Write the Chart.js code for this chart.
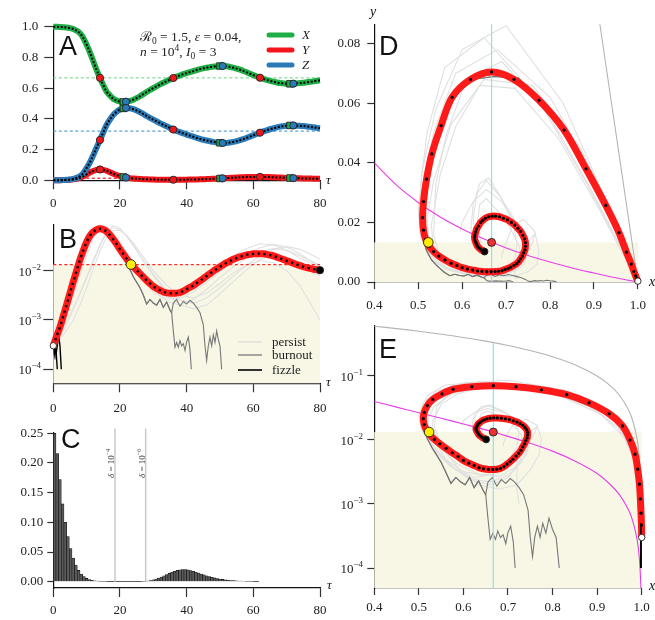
<!DOCTYPE html>
<html>
<head>
<meta charset="utf-8">
<script src="https://cdn.jsdelivr.net/npm/chart.js@4.4.0/dist/chart.umd.min.js"></script>
<style>
  body { margin: 0; background: #fff; width: 655px; height: 620px; position: relative; overflow: hidden; }
  canvas { position: absolute; }
</style>
</head>
<body>
<canvas id="pA" width="340" height="215" style="left:0;top:0"></canvas>
<canvas id="pB" width="340" height="225" style="left:0;top:195px"></canvas>
<canvas id="pC" width="340" height="200" style="left:0;top:420px"></canvas>
<canvas id="pD" width="325" height="320" style="left:330px;top:0"></canvas>
<canvas id="pE" width="325" height="310" style="left:330px;top:310px"></canvas>
<script>
// deterministic trajectory, one sample per time unit
const tau = [0, 1, 2, 3, 4, 5, 6, 7, 8, 9, 10, 11, 12, 13, 14, 15, 16, 17, 18, 19, 20,
  21, 22, 23, 24, 25, 26, 27, 28, 29, 30, 31, 32, 33, 34, 35, 36, 37, 38, 39, 40,
  41, 42, 43, 44, 45, 46, 47, 48, 49, 50, 51, 52, 53, 54, 55, 56, 57, 58, 59, 60,
  61, 62, 63, 64, 65, 66, 67, 68, 69, 70, 71, 72, 73, 74, 75, 76, 77, 78, 79, 80];
const xDet = [1.000, 0.9995, 0.9985, 0.997, 0.995, 0.991, 0.985, 0.974, 0.957, 0.927, 0.882,
  0.832, 0.775, 0.718, 0.667, 0.619, 0.577, 0.552, 0.531, 0.519, 0.512,
  0.510, 0.512, 0.517, 0.525, 0.535, 0.547, 0.561, 0.575, 0.588, 0.600,
  0.612, 0.624, 0.635, 0.645, 0.656, 0.666, 0.675, 0.683, 0.691, 0.698,
  0.705, 0.711, 0.718, 0.724, 0.729, 0.733, 0.737, 0.740, 0.743, 0.744,
  0.744, 0.742, 0.738, 0.733, 0.727, 0.720, 0.712, 0.703, 0.694, 0.685,
  0.676, 0.668, 0.660, 0.653, 0.647, 0.642, 0.637, 0.633, 0.631, 0.629,
  0.628, 0.629, 0.631, 0.633, 0.635, 0.638, 0.641, 0.644, 0.648, 0.651];
const yDet = [0.00030, 0.00047, 0.00072, 0.00120, 0.00204, 0.0035, 0.0060, 0.0100, 0.0166, 0.0257, 0.038,
  0.051, 0.061, 0.068, 0.0705, 0.068, 0.062, 0.0525, 0.043, 0.0345, 0.027,
  0.0216, 0.0174, 0.0143, 0.0120, 0.0102, 0.0087, 0.0074, 0.0063, 0.0055, 0.0048,
  0.00435, 0.0040, 0.0037, 0.00355, 0.00347, 0.00347, 0.0035, 0.0036, 0.00385, 0.0042,
  0.0046, 0.0050, 0.0056, 0.0062, 0.0069, 0.0078, 0.0087, 0.0098, 0.0108, 0.0120,
  0.0132, 0.0145, 0.0157, 0.0170, 0.0180, 0.0191, 0.0200, 0.0209, 0.0214, 0.0219,
  0.0221, 0.0221, 0.0219, 0.0214, 0.0207, 0.0200, 0.0188, 0.0178, 0.0168, 0.0158,
  0.0150, 0.0141, 0.0133, 0.0126, 0.0120, 0.0115, 0.0111, 0.0107, 0.0105, 0.0102];
const zDet = [0.000, 0.000, 0.0008, 0.0018, 0.003, 0.0055, 0.009, 0.016, 0.0264, 0.0473, 0.080,
  0.117, 0.164, 0.214, 0.2625, 0.313, 0.361, 0.3955, 0.426, 0.4465, 0.461,
  0.4684, 0.4706, 0.4687, 0.463, 0.4548, 0.4443, 0.4316, 0.4187, 0.4065, 0.3952,
  0.3837, 0.372, 0.3613, 0.3514, 0.3405, 0.3305, 0.3215, 0.3134, 0.3052, 0.2978,
  0.2904, 0.284, 0.2764, 0.2698, 0.2641, 0.2592, 0.2543, 0.2502, 0.2462, 0.244,
  0.2428, 0.2435, 0.2463, 0.250, 0.255, 0.2609, 0.268, 0.2761, 0.2846, 0.2931,
  0.3019, 0.3099, 0.3181, 0.3256, 0.3323, 0.338, 0.3442, 0.3492, 0.3522, 0.3552,
  0.357, 0.3569, 0.3557, 0.3544, 0.353, 0.3505, 0.3479, 0.3453, 0.3415, 0.3388];

// equilibrium and the point where y drops back to y*
const eqX = 0.667, eqY = 0.0133, eqZ = 0.32;
const yellowTau = 23.3, yellowX = 0.523, yellowY = 0.0133;

// turning points marked on panel A
const yTurnIdx = [14, 36, 62];
const xTurnTau = [21, 50, 71], xTurnX = [0.510, 0.744, 0.628], xTurnY = [0.0216, 0.012, 0.015], xTurnZ = [0.468, 0.244, 0.357];
const zTurnTau = [21.8, 50.8, 72], zTurnX = [0.512, 0.744, 0.629], zTurnY = [0.018, 0.0130, 0.0141], zTurnZ = [0.471, 0.243, 0.357];

// stochastic runs that persist
const pTau = [0, 3, 6, 8, 10, 12, 14, 16, 18, 20, 22, 24, 27, 30, 34, 38, 42, 46, 50, 54, 58, 62, 66, 70, 74, 78, 80];
const p1X = [1.0, 0.999, 0.995, 0.99, 0.975, 0.945, 0.88, 0.77, 0.65, 0.56, 0.52, 0.505, 0.51, 0.53, 0.57, 0.615, 0.66, 0.70, 0.73, 0.745, 0.74, 0.72, 0.69, 0.655, 0.625, 0.60, 0.595];
const p1Y = [3e-4, 6e-4, 0.0016, 0.0035, 0.0075, 0.016, 0.034, 0.062, 0.082, 0.072, 0.05, 0.032, 0.016, 0.0085, 0.004, 0.0025, 0.0022, 0.0028, 0.0045, 0.0078, 0.013, 0.02, 0.027, 0.031, 0.027, 0.02, 0.017];
const p2X = [1.0, 0.998, 0.985, 0.965, 0.92, 0.83, 0.70, 0.60, 0.54, 0.51, 0.50, 0.505, 0.53, 0.565, 0.615, 0.66, 0.70, 0.725, 0.735, 0.73, 0.71, 0.68, 0.655, 0.64, 0.635, 0.64, 0.645];
const p2Y = [3e-4, 0.0012, 0.005, 0.012, 0.03, 0.06, 0.086, 0.078, 0.058, 0.038, 0.024, 0.015, 0.0075, 0.0042, 0.0024, 0.002, 0.0026, 0.0042, 0.0072, 0.012, 0.018, 0.024, 0.028, 0.026, 0.02, 0.015, 0.013];
const p3X = [1.0, 0.999, 0.99, 0.975, 0.94, 0.87, 0.76, 0.65, 0.575, 0.535, 0.52, 0.525, 0.55, 0.585, 0.635, 0.68, 0.715, 0.74, 0.75, 0.74, 0.715, 0.685, 0.655, 0.635, 0.625, 0.63, 0.64];
const p3Y = [3e-4, 9e-4, 0.003, 0.008, 0.02, 0.045, 0.066, 0.068, 0.053, 0.034, 0.021, 0.0135, 0.0072, 0.0043, 0.0029, 0.0027, 0.0037, 0.0058, 0.0095, 0.015, 0.022, 0.029, 0.034, 0.03, 0.022, 0.0145, 0.011];
const p4X = [1.0, 0.9995, 0.998, 0.995, 0.985, 0.96, 0.91, 0.82, 0.72, 0.64, 0.585, 0.55, 0.53, 0.535, 0.56, 0.60, 0.645, 0.685, 0.72, 0.745, 0.76, 0.765, 0.755, 0.735, 0.72, 0.72, 0.725];
const p4Y = [3e-4, 5e-4, 0.001, 0.002, 0.0045, 0.011, 0.025, 0.048, 0.065, 0.066, 0.052, 0.036, 0.019, 0.01, 0.005, 0.0032, 0.0028, 0.0035, 0.0055, 0.009, 0.013, 0.016, 0.0145, 0.01, 0.005, 0.0017, 0.001];
const p5X = [1.0, 0.998, 0.98, 0.955, 0.90, 0.80, 0.68, 0.585, 0.535, 0.51, 0.505, 0.515, 0.545, 0.58, 0.625, 0.665, 0.70, 0.72, 0.725, 0.715, 0.69, 0.66, 0.64, 0.625, 0.62, 0.625, 0.63];
const p5Y = [3e-4, 0.0015, 0.0065, 0.016, 0.036, 0.062, 0.078, 0.07, 0.05, 0.032, 0.02, 0.012, 0.0062, 0.0036, 0.0026, 0.0029, 0.0046, 0.0078, 0.013, 0.02, 0.028, 0.035, 0.033, 0.026, 0.018, 0.0135, 0.012];
const p6X = [1.0, 0.9995, 0.997, 0.992, 0.98, 0.95, 0.89, 0.79, 0.69, 0.61, 0.565, 0.54, 0.535, 0.55, 0.59, 0.635, 0.68, 0.72, 0.75, 0.77, 0.775, 0.765, 0.74, 0.715, 0.70, 0.69, 0.69];
const p6Y = [3e-4, 7e-4, 0.0018, 0.0033, 0.007, 0.015, 0.032, 0.058, 0.074, 0.068, 0.05, 0.033, 0.016, 0.008, 0.0035, 0.002, 0.0017, 0.002, 0.0034, 0.006, 0.0105, 0.017, 0.021, 0.019, 0.013, 0.009, 0.008];

// runs that burn out: common start, then two endings
const bTau = [0, 3, 6, 7, 8, 9, 10, 11, 12, 13, 14, 15, 16, 17, 18, 19, 20, 21, 22, 23,
  24, 25, 26, 27, 28, 29, 30, 31, 32, 33, 34, 35, 35.5];
const bX = [1.0, 0.999, 0.988, 0.977, 0.962, 0.935, 0.892, 0.842, 0.785, 0.728, 0.672, 0.622,
  0.578, 0.548, 0.527, 0.514, 0.508, 0.508, 0.512, 0.519,
  0.53, 0.54, 0.55, 0.56, 0.572, 0.583, 0.594, 0.604, 0.614, 0.624, 0.634, 0.645, 0.65];
const bY = [3e-4, 0.0011, 0.0055, 0.0095, 0.0160, 0.0245, 0.036, 0.049, 0.060, 0.0685, 0.069, 0.068,
  0.0625, 0.053, 0.043, 0.034, 0.026, 0.019, 0.0140, 0.0105,
  0.0075, 0.0058, 0.0045, 0.0032, 0.0021, 0.0026, 0.0022, 0.002, 0.0026, 0.0018, 0.0023, 0.0016, 0.0014];
const b1Tau = [36, 36.5, 37, 37.5, 38, 38.5, 39, 39.5, 40, 40.5, 41, 41.4];
const b1X = [0.655, 0.66, 0.666, 0.672, 0.677, 0.683, 0.689, 0.695, 0.70, 0.706, 0.712, 0.716];
const b1Y = [0.0006, 0.00028, 0.00035, 0.00028, 0.00038, 0.0003, 0.00033, 0.00024, 0.00036, 0.00045, 0.00025, 0.0001];
const b2Tau = [36, 37, 38, 39, 40, 41, 42, 43, 44, 45, 45.5, 46, 46.5, 47, 47.5, 48, 48.5, 49, 49.5, 50, 50.5];
const b2X = [0.655, 0.665, 0.675, 0.685, 0.695, 0.705, 0.715, 0.725, 0.735, 0.745, 0.75, 0.755, 0.76, 0.766, 0.772, 0.778, 0.785, 0.792, 0.80, 0.808, 0.815];
const b2Y = [0.0022, 0.0026, 0.0019, 0.0024, 0.0021, 0.0025, 0.0022, 0.0018, 0.0014, 0.0008, 0.0003, 0.00015, 0.0003, 0.00045, 0.0003, 0.0005, 0.00035, 0.0006, 0.0004, 0.0003, 0.0001];

// runs that fizzle right away
const f1Tau = [0, 0.3, 0.6, 0.9, 1.2], f1X = [1.0, 0.9999, 0.9999, 0.9998, 0.9998], f1Y = [3e-4, 2e-4, 3e-4, 2e-4, 1e-4];
const f2Tau = [0, 0.4, 0.8, 1.2, 1.6, 2.0, 2.4], f2X = [1.0, 0.9999, 0.9999, 0.9998, 0.9997, 0.9997, 0.9996], f2Y = [3e-4, 4e-4, 2e-4, 3e-4, 5e-4, 3e-4, 1e-4];

// x-nullcline and the x + y = 1 boundary
const nullX = [0.4, 0.45, 0.5, 0.55, 0.6, 0.65, 0.7, 0.75, 0.8, 0.85, 0.9, 0.93, 0.95, 0.97, 0.98, 0.99, 0.995, 0.998, 0.9995];
const nullY = [0.04, 0.0326, 0.0267, 0.0218, 0.0178, 0.0144, 0.0114, 0.0089, 0.0067, 0.0047, 0.0030, 0.0020, 0.0014, 0.00082, 0.00054, 0.00027, 0.000134, 0.000053, 0.0000133];
const bndX = [0.4, 0.45, 0.5, 0.55, 0.6, 0.65, 0.7, 0.75, 0.8, 0.85, 0.9, 0.93, 0.95, 0.97, 0.98, 0.99, 0.995, 0.998, 0.9999];
const bndY = [0.6, 0.55, 0.5, 0.45, 0.4, 0.35, 0.3, 0.25, 0.2, 0.15, 0.1, 0.07, 0.05, 0.03, 0.02, 0.01, 0.005, 0.002, 0.0001];

// distribution of extinction times
const histTau = [0.4, 1.2, 2.0, 2.8, 3.6, 4.4, 5.2, 6.0, 6.8, 7.6, 8.4, 9.2, 10.0, 10.8, 11.6, 12.4,
  13.2, 14.0, 14.8, 15.6, 16.4, 17.2, 18.0, 18.8, 19.6, 20.4, 21.2, 22.0, 22.8, 23.6, 24.4, 25.2,
  26.0, 26.8, 27.6, 28.4, 29.2, 30.0, 30.8, 31.6, 32.4, 33.2, 34.0, 34.8, 35.6, 36.4, 37.2, 38.0,
  38.8, 39.6, 40.4, 41.2, 42.0, 42.8, 43.6, 44.4, 45.2, 46.0, 46.8, 47.6, 48.4, 49.2, 50.0, 50.8,
  51.6, 52.4, 53.2, 54.0, 54.8, 55.6, 56.4, 57.2, 58.0, 58.8, 59.6, 60.4, 61.2];
const histP = [0.250, 0.216, 0.172, 0.131, 0.100, 0.076, 0.056, 0.040, 0.028, 0.019, 0.013, 0.0085,
  0.0055, 0.0035, 0.0022, 0.0014, 0.0009, 0.0006, 0.0004, 0.0003, 0.0002, 0.00015, 0.0001, 0.0001,
  0.0001, 0.0001, 0.0001, 0.0001, 0.0001, 0.0001, 0.0001, 0.00015, 0.0002, 0.0003, 0.0006, 0.0012,
  0.0020, 0.0032, 0.0046, 0.0062, 0.0080, 0.0100, 0.0120, 0.0140, 0.0158, 0.0175, 0.0190, 0.0200,
  0.0206, 0.0205, 0.0198, 0.0188, 0.0175, 0.0160, 0.0145, 0.0130, 0.0115, 0.0100, 0.0087, 0.0075,
  0.0064, 0.0054, 0.0046, 0.0038, 0.0032, 0.0026, 0.0021, 0.0017, 0.0014, 0.0011, 0.0009, 0.0007,
  0.0005, 0.0004, 0.0003, 0.0002, 0.00015];
const deltaTau = [18.5, 27.7], deltaExp = ['−4', '−6'];

const tauTicks = [0, 20, 40, 60, 80];
const xTicks = [0.4, 0.5, 0.6, 0.7, 0.8, 0.9, 1.0];
const logTicksB = [1e-4, 1e-3, 1e-2], logLabelsB = ['−4', '−3', '−2'];
const logTicksE = [1e-4, 1e-3, 1e-2, 1e-1], logLabelsE = ['−4', '−3', '−2', '−1'];

const GREEN = '#1fae45', RED = '#f2161c', BLUE = '#2a7ab8', BEIGE = '#f8f7e6';
const LIGHT = '#e0e0e0', DARK = '#777777';
const SERIF = '"Liberation Serif", serif';
const LAST = tau.length - 1;

const pts = (xs, ys) => xs.map((x, i) => ({ x, y: ys[i] }));
const persistX = [p1X, p2X, p3X, p4X, p5X, p6X];
const persistY = [p1Y, p2Y, p3Y, p4Y, p5Y, p6Y];

function line(data, color, width, extra) {
  return Object.assign({ data, showLine: true, borderColor: color, borderWidth: width,
    pointRadius: 0, fill: false }, extra || {});
}
function marks(data, fill, r, extra) {
  return Object.assign({ data, showLine: false, pointRadius: r, pointBackgroundColor: fill,
    pointBorderColor: '#222', pointBorderWidth: 0.9, clip: false }, extra || {});
}
const thin = (data, color, w) => line(data, color, w || 1.1, { tension: 0 });

function axis(type, pos, min, max, ticks, fmt, tickLen, pad, size) {
  return {
    type, position: pos, min, max, offset: false,
    afterBuildTicks: s => { s.ticks = ticks.map(v => ({ value: v })); },
    afterFit: s => { if (pos === 'bottom') s.height = size; else s.width = size; },
    ticks: { font: { family: SERIF, size: 13 }, color: '#222', padding: pad, maxRotation: 0,
      autoSkip: false, callback: fmt },
    grid: { offset: false, drawOnChartArea: false, tickLength: tickLen, tickWidth: 1.2, tickColor: '#333' },
    border: { color: '#111', width: 1.2 }
  };
}

function makeChart(id, datasets, scales, padding, under, over) {
  // first entry is drawn at the bottom
  const n = datasets.length;
  datasets.forEach((d, i) => { d.order = n - i; });
  return new Chart(document.getElementById(id), {
    type: 'scatter',
    data: { datasets },
    options: {
      responsive: false, animation: false, devicePixelRatio: 1, events: [],
      layout: { padding },
      plugins: { legend: { display: false }, tooltip: { enabled: false } },
      scales
    },
    plugins: [{ id: 'deco', beforeDatasetsDraw: under || (() => {}), afterDraw: over || (() => {}) }]
  });
}

function text(ctx, s, x, y, font, align, color) {
  ctx.save();
  ctx.font = font; ctx.textAlign = align || 'left'; ctx.fillStyle = color || '#111';
  ctx.fillText(s, x, y);
  ctx.restore();
}
function rich(ctx, parts, x, y, size, color) {
  ctx.save();
  ctx.fillStyle = color || '#222'; ctx.textAlign = 'left';
  let cx = x;
  for (const [t, st] of parts) {
    const small = st === 'sub' || st === 'sup';
    ctx.font = (st === 'i' ? 'italic ' : '') + (small ? size * 0.7 : size) + 'px ' + SERIF;
    const dy = st === 'sub' ? size * 0.25 : st === 'sup' ? -size * 0.4 : 0;
    ctx.fillText(t, cx, y + dy);
    cx += ctx.measureText(t).width;
  }
  ctx.restore();
}
function logLabels(chart, values, exps, xr) {
  const s = chart.scales.y, ctx = chart.ctx;
  ctx.save(); ctx.fillStyle = '#222'; ctx.textAlign = 'left';
  values.forEach((v, i) => {
    const y = s.getPixelForValue(v);
    ctx.font = '9px ' + SERIF; const ws = ctx.measureText(exps[i]).width;
    ctx.font = '13px ' + SERIF; const wb = ctx.measureText('10').width;
    ctx.fillText('10', xr - ws - wb, y + 5);
    ctx.font = '9px ' + SERIF; ctx.fillText(exps[i], xr - ws, y - 1);
  });
  ctx.restore();
}
function shade(chart, level) {
  const a = chart.chartArea, ctx = chart.ctx;
  const y = chart.scales.y.getPixelForValue(level);
  ctx.save(); ctx.fillStyle = BEIGE;
  ctx.fillRect(a.left, y, a.right - a.left, a.bottom - y);
  ctx.restore();
}
function legendRow(ctx, x0, x1, y, color, width, label, italic) {
  ctx.save();
  ctx.strokeStyle = color; ctx.lineWidth = width; ctx.lineCap = width > 2 ? 'round' : 'butt';
  ctx.beginPath(); ctx.moveTo(x0, y); ctx.lineTo(x1, y); ctx.stroke();
  ctx.restore();
  text(ctx, label, x1 + 10, y + 4, (italic ? 'italic ' : '') + '13px ' + SERIF, 'left', '#222');
}
const LETTER = '27px "Liberation Sans", sans-serif';
const fmt1 = v => v.toFixed(1), fmt2 = v => v.toFixed(2), fmt0 = v => String(v), blank = () => '';

// ---------- A: X, Y, Z against time ----------
const dotted = { borderDash: [2, 1.7], cubicInterpolationMode: 'monotone', clip: false };
const smooth = { cubicInterpolationMode: 'monotone', clip: false };
makeChart('pA', [
  line([{ x: 0, y: eqX }, { x: 80, y: eqX }], '#86db98', 1.3, { borderDash: [3, 2.5] }),
  line([{ x: 0, y: eqZ }, { x: 80, y: eqZ }], '#5aa2d6', 1.3, { borderDash: [3, 2.5] }),
  line([{ x: 0, y: eqY }, { x: 80, y: eqY }], '#f04848', 1.3, { borderDash: [3, 2.5] }),
  line(pts(tau, xDet), GREEN, 6, smooth),
  line(pts(tau, yDet), RED, 6, smooth),
  line(pts(tau, zDet), BLUE, 6, smooth),
  line(pts(tau, xDet), '#000', 2, dotted),
  line(pts(tau, yDet), '#000', 2, dotted),
  line(pts(tau, zDet), '#000', 2, dotted),
  marks(yTurnIdx.map(i => ({ x: tau[i], y: xDet[i] }))
    .concat(yTurnIdx.map(i => ({ x: tau[i], y: yDet[i] })))
    .concat(yTurnIdx.map(i => ({ x: tau[i], y: zDet[i] }))), RED, 3.6),
  marks(pts(xTurnTau, xTurnX).concat(pts(xTurnTau, xTurnY), pts(xTurnTau, xTurnZ)), GREEN, 4.6,
    { pointStyle: 'rect' }),
  marks(pts(zTurnTau, zTurnX).concat(pts(zTurnTau, zTurnY), pts(zTurnTau, zTurnZ)), BLUE, 3.6)
], {
  x: axis('linear', 'bottom', 0, 80, tauTicks, fmt0, 9, 6, 34.7),
  y: axis('linear', 'left', 0, 1, [0, 0.2, 0.4, 0.6, 0.8, 1.0], fmt1, 9, 6, 53.3)
}, { left: 0, top: 26.7, right: 20, bottom: 0 }, null, chart => {
  const ctx = chart.ctx;
  text(ctx, 'A', 59, 55, LETTER);
  rich(ctx, [['ℛ', ''], ['0', 'sub'], [' = 1.5, ', ''], ['ε', 'i'], [' = 0.04,', '']], 140, 41, 13.5);
  rich(ctx, [['n', 'i'], [' = 10', ''], ['4', 'sup'], [', ', ''], ['I', 'i'], ['0', 'sub'], [' = 3', '']], 140, 56, 13.5);
  legendRow(ctx, 269, 292, 35, GREEN, 5, 'X', true);
  legendRow(ctx, 269, 292, 50, RED, 5, 'Y', true);
  legendRow(ctx, 269, 292, 65, BLUE, 5, 'Z', true);
  text(ctx, 'τ', 326, 184, 'italic 13px ' + SERIF);
});

// ---------- B: infected fraction on a log axis ----------
makeChart('pB', persistY.map(ys => thin(pts(pTau, ys), LIGHT)).concat([
  thin(pts(bTau.concat(b1Tau), bY.concat(b1Y)), DARK),
  thin(pts(bTau.concat(b2Tau), bY.concat(b2Y)), DARK),
  thin(pts(f1Tau, f1Y), '#000', 1.4),
  thin(pts(f2Tau, f2Y), '#000', 1.4),
  line([{ x: 0, y: eqY }, { x: 80, y: eqY }], '#ff2a2a', 1.3, { borderDash: [3, 2.5] }),
  line(pts(tau, yDet), '#ff1a1a', 7, smooth),
  line(pts(tau, yDet), '#000', 2.4, { borderDash: [2.2, 3.6], cubicInterpolationMode: 'monotone', clip: false }),
  marks([{ x: tau[0], y: yDet[0] }], '#fff', 3.2),
  marks([{ x: yellowTau, y: yellowY }], '#ffee00', 4.8),
  marks([{ x: tau[LAST], y: yDet[LAST] }], '#000', 3.6)
]), {
  x: axis('linear', 'bottom', 0, 80, tauTicks, fmt0, 9, 8, 36.7),
  y: axis('logarithmic', 'left', 5.2e-5, 0.087, logTicksB, blank, 10, 4, 53.3)
}, { left: 0, top: 29.3, right: 20, bottom: 0 }, chart => shade(chart, eqY), chart => {
  const ctx = chart.ctx;
  logLabels(chart, logTicksB, logLabelsB, 41);
  text(ctx, 'B', 59, 53, LETTER);
  legendRow(ctx, 238, 262, 147, '#dcdcdc', 1.3, 'persist');
  legendRow(ctx, 238, 262, 160, DARK, 1.3, 'burnout');
  legendRow(ctx, 238, 262, 175, '#000', 1.6, 'fizzle');
  text(ctx, 'τ', 326, 191, 'italic 13px ' + SERIF);
});

// ---------- C: extinction time histogram ----------
makeChart('pC', [
  { type: 'bar', data: pts(histTau, histP), backgroundColor: '#5a5a5a', borderColor: '#111',
    borderWidth: 0.6, barPercentage: 1, categoryPercentage: 1 },
  line([{ x: deltaTau[0], y: 0 }, { x: deltaTau[0], y: 0.258 }], '#c8c8c8', 1.5, { clip: false }),
  line([{ x: deltaTau[1], y: 0 }, { x: deltaTau[1], y: 0.258 }], '#c8c8c8', 1.5, { clip: false })
], {
  x: axis('linear', 'bottom', 0, 80, tauTicks, fmt0, 9, 6, 32),
  y: axis('linear', 'left', -0.0106, 0.251, [0, 0.05, 0.1, 0.15, 0.2, 0.25], fmt2, 6, 4, 53.3)
}, { left: 0, top: 12.7, right: 20, bottom: 0 }, null, chart => {
  const ctx = chart.ctx;
  text(ctx, 'C', 61, 28, LETTER);
  text(ctx, 'τ', 327, 169, 'italic 13px ' + SERIF);
  deltaTau.forEach((t, i) => {
    const x = chart.scales.x.getPixelForValue(t);
    ctx.save();
    ctx.translate(x - 1, 58); ctx.rotate(-Math.PI / 2);
    rich(ctx, [['δ', 'i'], [' = 10', ''], [deltaExp[i], 'sup']], 0, 0, 9, '#444');
    ctx.restore();
  });
});

// ---------- D and E: phase plane ----------
function phaseSets(logY) {
  const lo = logY ? 4.87e-5 : 0;
  const sets = persistX.map((xs, k) => thin(pts(xs, persistY[k]), LIGHT)).concat([
    thin(pts(bX.concat(b1X), bY.concat(b1Y)), DARK),
    thin(pts(bX.concat(b2X), bY.concat(b2Y)), DARK),
    line(pts(bndX, bndY), '#b4b4b4', 1.1, { tension: 0.2 }),
    line(pts(nullX, nullY), '#e83ee8', 1.1, { tension: 0.2 }),
    line([{ x: eqX, y: lo }, { x: eqX, y: 0.333 }], '#86e6ea', 1.2),
    line(pts(xDet, yDet), '#ff1a1a', 7, { tension: 0.3, clip: false }),
    marks(pts(xDet, yDet), '#000', 1.6, { pointBorderWidth: 0 })
  ]);
  if (logY) {
    sets.push(thin(pts(f1X, f1Y), '#000', 3), thin(pts(f2X, f2Y), '#000', 3));
  }
  sets.push(
    marks([{ x: xDet[0], y: yDet[0] }], '#fff', 3.2),
    marks([{ x: yellowX, y: yellowY }], '#ffee00', 4.8),
    marks([{ x: eqX, y: eqY }], '#ee3030', 4),
    marks([{ x: xDet[LAST], y: yDet[LAST] }], '#000', 3.4)
  );
  return sets;
}

makeChart('pD', phaseSets(false), {
  x: axis('linear', 'bottom', 0.4, 1.0, xTicks, fmt1, 7, 9, 38),
  y: axis('linear', 'left', 0, 0.0865, [0, 0.02, 0.04, 0.06, 0.08], fmt2, 7, 7, 44.3)
}, { left: 0, top: 24.3, right: 13.3, bottom: 0 }, chart => shade(chart, eqY), chart => {
  const ctx = chart.ctx;
  text(ctx, 'D', 49, 55, LETTER);
  text(ctx, 'y', 40, 16, 'italic 14px ' + SERIF);
  text(ctx, 'x', 319, 286, 'italic 14px ' + SERIF);
});

makeChart('pE', phaseSets(true), {
  x: axis('linear', 'bottom', 0.4, 1.0, xTicks, fmt1, 7, 5, 32),
  y: axis('logarithmic', 'left', 4.87e-5, 0.604, logTicksE, blank, 7, 4, 44.3)
}, { left: 0, top: 16, right: 13.3, bottom: 0 }, chart => shade(chart, eqY), chart => {
  const ctx = chart.ctx;
  logLabels(chart, logTicksE, logLabelsE, 33);
  text(ctx, 'E', 49, 48, LETTER);
  text(ctx, 'x', 319, 280, 'italic 14px ' + SERIF);
});
</script>
</body>
</html>
